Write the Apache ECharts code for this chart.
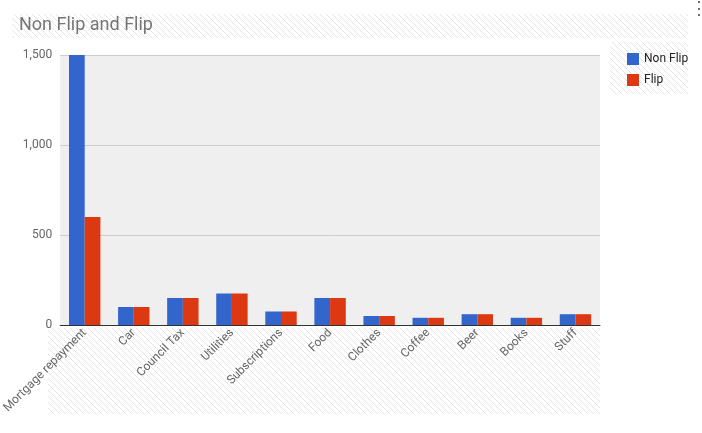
<!DOCTYPE html>
<html><head><meta charset="utf-8">
<script src="https://cdn.jsdelivr.net/npm/echarts@6/dist/echarts.min.js"></script>
<style>html,body{margin:0;padding:0;background:#fff}#chart{width:702px;height:433px}</style>
</head><body><div id="chart"></div>
<script>
const categories = ["Mortgage repayment", "Car", "Council Tax", "Utilities", "Subscriptions", "Food", "Clothes", "Coffee", "Beer", "Books", "Stuff"];
const nonFlip = [1500, 100, 150, 175, 75, 150, 50, 40, 60, 40, 60];
const flip = [600, 100, 150, 175, 75, 150, 50, 40, 60, 40, 60];
const yTicks = [0, 500, 1000, 1500];

// hatch pattern like the sheet editor overlay
const pc = document.createElement("canvas");
pc.width = 6; pc.height = 6;
const g = pc.getContext("2d");
g.strokeStyle = "#e4e4e4"; g.lineWidth = 1;
g.beginPath(); g.moveTo(0, 0); g.lineTo(6, 6); g.stroke();
const hatch = { image: pc, repeat: "repeat" };

const chart = echarts.init(document.getElementById("chart"));
chart.setOption({
  animation: false,
  textStyle: { fontFamily: "Roboto, Arial, sans-serif" },
  graphic: [
    { type: "rect", z: -1, shape: { x: 12, y: 14, width: 676, height: 24 }, style: { fill: hatch } },
    { type: "rect", z: -1, shape: { x: 610, y: 42, width: 78, height: 52 }, style: { fill: hatch } },
    { type: "rect", z: -1, shape: { x: 48, y: 328, width: 552, height: 86 }, style: { fill: hatch } },
    { type: "text", left: 690, top: 0, style: { text: "⋮", fontSize: 18, fill: "#666" } }
  ],
  title: {
    text: "Non Flip and Flip", left: 14, top: 11,
    textStyle: { fontSize: 18, fontWeight: "normal", color: "#757575" }
  },
  legend: {
    orient: "vertical", left: 622, top: 48, itemWidth: 12, itemHeight: 12, itemGap: 9,
    icon: "rect", textStyle: { fontSize: 12, color: "#222" }
  },
  grid: {
    left: 48, right: 102, top: 55, bottom: 108, show: true,
    backgroundColor: "#efefef", borderWidth: 0
  },
  xAxis: {
    type: "category", data: categories,
    axisTick: { show: false },
    axisLine: { lineStyle: { color: "#333" } },
    axisLabel: { rotate: 45, color: "#666", fontSize: 12, interval: 0, margin: 6 }
  },
  yAxis: {
    type: "value", min: yTicks[0], max: yTicks[yTicks.length - 1], interval: 500,
    axisLabel: { color: "#666", fontSize: 12, margin: 8 },
    splitLine: { lineStyle: { color: "#ccc" } }
  },
  series: [
    { name: "Non Flip", type: "bar", data: nonFlip, itemStyle: { color: "#3366cc" }, barGap: "0%", barCategoryGap: "36%" },
    { name: "Flip", type: "bar", data: flip, itemStyle: { color: "#dc3912" } }
  ]
});
</script></body></html>
